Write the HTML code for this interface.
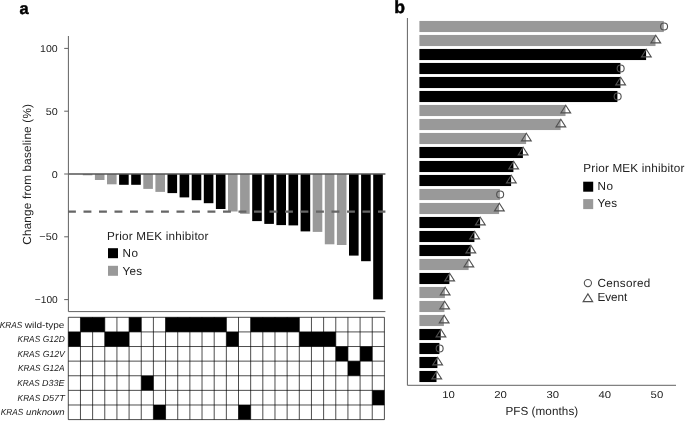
<!DOCTYPE html>
<html lang="en"><head><meta charset="utf-8"><title>Figure</title>
<style>html,body{margin:0;padding:0;background:#fff}body{width:685px;height:421px;overflow:hidden}svg{display:block}text{font-family:"Liberation Sans",Arial,sans-serif;fill:#222;text-rendering:geometricPrecision}.t10{font-size:10px}.t12{font-size:11.7px}.lab{font-size:8.8px}.i{font-style:italic}.pl{font-size:18px;font-weight:bold;fill:#000;stroke:#000;stroke-width:0.45}.ax{stroke:#626262;stroke-width:1;fill:none}.mk{stroke:#505050;stroke-width:1.1;fill:none}</style></head><body>
<svg width="685" height="421" viewBox="0 0 685 421">
<rect width="685" height="421" fill="#fff"/>
<text class="pl" x="19.4" y="14.1" style="font-size:16.4px">a</text>
<rect x="82.80" y="174.0" width="9.6" height="1.30" fill="#999"/>
<rect x="94.90" y="174.0" width="9.6" height="6.00" fill="#999"/>
<rect x="107.00" y="174.0" width="9.6" height="10.30" fill="#999"/>
<rect x="119.10" y="174.0" width="9.6" height="10.80" fill="#000"/>
<rect x="131.20" y="174.0" width="9.6" height="10.80" fill="#000"/>
<rect x="143.30" y="174.0" width="9.6" height="14.90" fill="#999"/>
<rect x="155.40" y="174.0" width="9.6" height="17.90" fill="#999"/>
<rect x="167.50" y="174.0" width="9.6" height="19.10" fill="#000"/>
<rect x="179.60" y="174.0" width="9.6" height="23.40" fill="#000"/>
<rect x="191.70" y="174.0" width="9.6" height="26.20" fill="#000"/>
<rect x="203.80" y="174.0" width="9.6" height="29.20" fill="#000"/>
<rect x="215.90" y="174.0" width="9.6" height="35.00" fill="#000"/>
<rect x="228.00" y="174.0" width="9.6" height="37.50" fill="#999"/>
<rect x="240.10" y="174.0" width="9.6" height="39.80" fill="#999"/>
<rect x="252.20" y="174.0" width="9.6" height="47.10" fill="#000"/>
<rect x="264.30" y="174.0" width="9.6" height="49.90" fill="#000"/>
<rect x="276.40" y="174.0" width="9.6" height="51.10" fill="#000"/>
<rect x="288.50" y="174.0" width="9.6" height="51.40" fill="#000"/>
<rect x="300.60" y="174.0" width="9.6" height="57.40" fill="#000"/>
<rect x="312.70" y="174.0" width="9.6" height="57.90" fill="#999"/>
<rect x="324.80" y="174.0" width="9.6" height="70.30" fill="#999"/>
<rect x="336.90" y="174.0" width="9.6" height="71.00" fill="#999"/>
<rect x="349.00" y="174.0" width="9.6" height="81.60" fill="#000"/>
<rect x="361.10" y="174.0" width="9.6" height="87.20" fill="#000"/>
<rect x="373.20" y="174.0" width="9.6" height="125.40" fill="#000"/>
<line x1="68.4" y1="174.0" x2="385.4" y2="174.0" stroke="#555" stroke-width="1.4"/>
<line x1="68" y1="211.6" x2="385.4" y2="211.6" stroke="#666" stroke-width="2.1" stroke-dasharray="7.9 7.6"/>
<path class="ax" d="M68.4 36V311.6H385.4"/>
<line class="ax" x1="64.2" y1="48.40" x2="68.4" y2="48.40"/>
<text class="t10" x="40.10" y="51.95" textLength="17.6" lengthAdjust="spacingAndGlyphs">100</text>
<line class="ax" x1="64.2" y1="111.20" x2="68.4" y2="111.20"/>
<text class="t10" x="45.70" y="114.75" textLength="12.0" lengthAdjust="spacingAndGlyphs">50</text>
<line class="ax" x1="64.2" y1="174.00" x2="68.4" y2="174.00"/>
<text class="t10" x="51.70" y="177.55" textLength="6.0" lengthAdjust="spacingAndGlyphs">0</text>
<line class="ax" x1="64.2" y1="236.80" x2="68.4" y2="236.80"/>
<text class="t10" x="39.30" y="240.35" textLength="18.4" lengthAdjust="spacingAndGlyphs">−50</text>
<line class="ax" x1="64.2" y1="299.60" x2="68.4" y2="299.60"/>
<text class="t10" x="34.80" y="303.15" textLength="22.9" lengthAdjust="spacingAndGlyphs">−100</text>
<text class="t12" transform="translate(31.3 244.7) rotate(-90)" textLength="140.6">Change from baseline (%)</text>
<text class="t12" x="107" y="239.8" textLength="101.5">Prior MEK inhibitor</text>
<rect x="108" y="248.2" width="10" height="10" fill="#000"/><text class="t12" x="122.5" y="256.8" textLength="15.6">No</text>
<rect x="108" y="265.8" width="10" height="10" fill="#999"/><text class="t12" x="122.5" y="274.5" textLength="19.6">Yes</text>
<rect x="80.46" y="317.30" width="24.32" height="14.61" fill="#000"/>
<rect x="129.09" y="317.30" width="12.16" height="14.61" fill="#000"/>
<rect x="165.56" y="317.30" width="60.79" height="14.61" fill="#000"/>
<rect x="250.67" y="317.30" width="48.63" height="14.61" fill="#000"/>
<rect x="68.30" y="331.91" width="12.16" height="14.61" fill="#000"/>
<rect x="104.77" y="331.91" width="24.32" height="14.61" fill="#000"/>
<rect x="226.35" y="331.91" width="12.16" height="14.61" fill="#000"/>
<rect x="299.30" y="331.91" width="36.47" height="14.61" fill="#000"/>
<rect x="335.77" y="346.53" width="12.16" height="14.61" fill="#000"/>
<rect x="360.08" y="346.53" width="12.16" height="14.61" fill="#000"/>
<rect x="347.93" y="361.14" width="12.16" height="14.61" fill="#000"/>
<rect x="141.25" y="375.76" width="12.16" height="14.61" fill="#000"/>
<rect x="372.24" y="390.37" width="12.16" height="14.61" fill="#000"/>
<rect x="153.40" y="404.99" width="12.16" height="14.61" fill="#000"/>
<rect x="238.51" y="404.99" width="12.16" height="14.61" fill="#000"/>
<path d="M68.30 317.3V419.60M80.46 317.3V419.60M92.62 317.3V419.60M104.77 317.3V419.60M116.93 317.3V419.60M129.09 317.3V419.60M141.25 317.3V419.60M153.40 317.3V419.60M165.56 317.3V419.60M177.72 317.3V419.60M189.88 317.3V419.60M202.03 317.3V419.60M214.19 317.3V419.60M226.35 317.3V419.60M238.51 317.3V419.60M250.67 317.3V419.60M262.82 317.3V419.60M274.98 317.3V419.60M287.14 317.3V419.60M299.30 317.3V419.60M311.45 317.3V419.60M323.61 317.3V419.60M335.77 317.3V419.60M347.93 317.3V419.60M360.08 317.3V419.60M372.24 317.3V419.60M384.40 317.3V419.60M68.3 317.30H384.40M68.3 331.91H384.40M68.3 346.53H384.40M68.3 361.14H384.40M68.3 375.76H384.40M68.3 390.37H384.40M68.3 404.99H384.40M68.3 419.60H384.40" stroke="#000" stroke-width="0.7" fill="none"/>
<text class="lab i" x="-0.3" y="327.60" textLength="22.6" lengthAdjust="spacingAndGlyphs">KRAS</text><text class="lab" x="24.7" y="327.60" textLength="39.8" lengthAdjust="spacingAndGlyphs">wild-type</text>
<text class="lab i" x="17.6" y="342.18" textLength="22.6" lengthAdjust="spacingAndGlyphs">KRAS</text><text class="lab i" x="42.8" y="342.18" textLength="21.9" lengthAdjust="spacingAndGlyphs">G12D</text>
<text class="lab i" x="17.5" y="356.76" textLength="22.6" lengthAdjust="spacingAndGlyphs">KRAS</text><text class="lab i" x="42.7" y="356.76" textLength="22.2" lengthAdjust="spacingAndGlyphs">G12V</text>
<text class="lab i" x="18.1" y="371.34" textLength="22.4" lengthAdjust="spacingAndGlyphs">KRAS</text><text class="lab i" x="43.1" y="371.34" textLength="21.4" lengthAdjust="spacingAndGlyphs">G12A</text>
<text class="lab i" x="17.3" y="385.92" textLength="22.4" lengthAdjust="spacingAndGlyphs">KRAS</text><text class="lab i" x="42.1" y="385.92" textLength="22.4" lengthAdjust="spacingAndGlyphs">D33E</text>
<text class="lab i" x="17.6" y="400.50" textLength="22.6" lengthAdjust="spacingAndGlyphs">KRAS</text><text class="lab i" x="42.4" y="400.50" textLength="22.4" lengthAdjust="spacingAndGlyphs">D57T</text>
<text class="lab i" x="0.7" y="415.08" textLength="22.6" lengthAdjust="spacingAndGlyphs">KRAS</text><text class="lab i" x="26.1" y="415.08" textLength="38.6" lengthAdjust="spacingAndGlyphs">unknown</text>
<text class="pl" x="394.2" y="12.7" style="font-size:17.6px">b</text>
<rect x="419.4" y="20.95" width="244.40" height="11.1" fill="#999"/>
<rect x="419.4" y="34.95" width="236.10" height="11.1" fill="#999"/>
<rect x="419.4" y="48.95" width="226.70" height="11.1" fill="#000"/>
<rect x="419.4" y="62.95" width="201.00" height="11.1" fill="#000"/>
<rect x="419.4" y="76.95" width="201.00" height="11.1" fill="#000"/>
<rect x="419.4" y="90.95" width="198.00" height="11.1" fill="#000"/>
<rect x="419.4" y="104.95" width="146.10" height="11.1" fill="#999"/>
<rect x="419.4" y="118.95" width="141.20" height="11.1" fill="#999"/>
<rect x="419.4" y="132.95" width="106.70" height="11.1" fill="#999"/>
<rect x="419.4" y="146.95" width="103.50" height="11.1" fill="#000"/>
<rect x="419.4" y="160.95" width="94.00" height="11.1" fill="#000"/>
<rect x="419.4" y="174.95" width="91.70" height="11.1" fill="#000"/>
<rect x="419.4" y="188.95" width="80.50" height="11.1" fill="#999"/>
<rect x="419.4" y="202.95" width="79.70" height="11.1" fill="#999"/>
<rect x="419.4" y="216.95" width="60.70" height="11.1" fill="#000"/>
<rect x="419.4" y="230.95" width="55.00" height="11.1" fill="#000"/>
<rect x="419.4" y="244.95" width="51.20" height="11.1" fill="#000"/>
<rect x="419.4" y="258.95" width="49.20" height="11.1" fill="#999"/>
<rect x="419.4" y="272.95" width="30.00" height="11.1" fill="#000"/>
<rect x="419.4" y="286.95" width="25.50" height="11.1" fill="#999"/>
<rect x="419.4" y="300.95" width="25.00" height="11.1" fill="#999"/>
<rect x="419.4" y="314.95" width="24.50" height="11.1" fill="#999"/>
<rect x="419.4" y="328.95" width="21.30" height="11.1" fill="#000"/>
<rect x="419.4" y="342.95" width="20.00" height="11.1" fill="#000"/>
<rect x="419.4" y="356.95" width="18.00" height="11.1" fill="#000"/>
<rect x="419.4" y="370.95" width="17.10" height="11.1" fill="#000"/>
<circle class="mk" cx="664.05" cy="26.50" r="3.5"/>
<path class="mk" d="M655.75 35.20L660.65 42.90H650.85Z"/>
<path class="mk" d="M646.35 49.20L651.25 56.90H641.45Z"/>
<circle class="mk" cx="620.65" cy="68.50" r="3.5"/>
<path class="mk" d="M620.65 77.20L625.55 84.90H615.75Z"/>
<circle class="mk" cx="617.65" cy="96.50" r="3.5"/>
<path class="mk" d="M565.75 105.20L570.65 112.90H560.85Z"/>
<path class="mk" d="M560.85 119.20L565.75 126.90H555.95Z"/>
<path class="mk" d="M526.35 133.20L531.25 140.90H521.45Z"/>
<path class="mk" d="M523.15 147.20L528.05 154.90H518.25Z"/>
<path class="mk" d="M513.65 161.20L518.55 168.90H508.75Z"/>
<path class="mk" d="M511.35 175.20L516.25 182.90H506.45Z"/>
<circle class="mk" cx="500.15" cy="194.50" r="3.5"/>
<path class="mk" d="M499.35 203.20L504.25 210.90H494.45Z"/>
<path class="mk" d="M480.35 217.20L485.25 224.90H475.45Z"/>
<path class="mk" d="M474.65 231.20L479.55 238.90H469.75Z"/>
<path class="mk" d="M470.85 245.20L475.75 252.90H465.95Z"/>
<path class="mk" d="M468.85 259.20L473.75 266.90H463.95Z"/>
<path class="mk" d="M449.65 273.20L454.55 280.90H444.75Z"/>
<path class="mk" d="M445.15 287.20L450.05 294.90H440.25Z"/>
<path class="mk" d="M444.65 301.20L449.55 308.90H439.75Z"/>
<path class="mk" d="M444.15 315.20L449.05 322.90H439.25Z"/>
<path class="mk" d="M440.95 329.20L445.85 336.90H436.05Z"/>
<circle class="mk" cx="439.65" cy="348.50" r="3.5"/>
<path class="mk" d="M437.65 357.20L442.55 364.90H432.75Z"/>
<path class="mk" d="M436.75 371.20L441.65 378.90H431.85Z"/>
<path class="ax" d="M407.4 18V385.3H676"/>
<text class="t10" x="442.20" y="398.0" textLength="12.6" lengthAdjust="spacingAndGlyphs">10</text>
<text class="t10" x="494.30" y="398.0" textLength="12.6" lengthAdjust="spacingAndGlyphs">20</text>
<text class="t10" x="546.40" y="398.0" textLength="12.6" lengthAdjust="spacingAndGlyphs">30</text>
<text class="t10" x="598.50" y="398.0" textLength="12.6" lengthAdjust="spacingAndGlyphs">40</text>
<text class="t10" x="650.60" y="398.0" textLength="12.6" lengthAdjust="spacingAndGlyphs">50</text>
<text class="t12" x="505.4" y="414.5" textLength="72.8">PFS (months)</text>
<text class="t12" x="583.3" y="172.3" textLength="101">Prior MEK inhibitor</text>
<rect x="583.2" y="181.7" width="10" height="10" fill="#000"/><text class="t12" x="597.5" y="189.6" textLength="15.6">No</text>
<rect x="583.2" y="199.1" width="10" height="10" fill="#999"/><text class="t12" x="597.5" y="207.2" textLength="19.6">Yes</text>
<circle class="mk" cx="587.9" cy="283.1" r="3.6"/><text class="t12" x="597.5" y="286.8" textLength="52.7">Censored</text>
<path class="mk" d="M587.9 293.9L592.7 301.6H583.1Z"/><text class="t12" x="597.5" y="300.7" textLength="29.7">Event</text>
</svg></body></html>
